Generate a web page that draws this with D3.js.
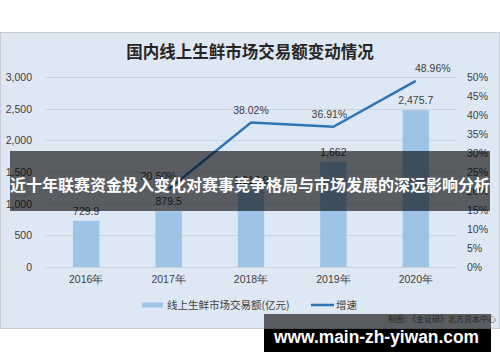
<!DOCTYPE html>
<html>
<head>
<meta charset="utf-8">
<script src="https://cdn.jsdelivr.net/npm/d3@7"></script>
<style>
  body { margin: 0; background: #fff; }
  svg { display: block; font-family: "Noto Sans CJK SC", "Noto Sans", sans-serif; }
</style>
</head>
<body>
<div id="chart"></div>
<script>
const years = ["2016年", "2017年", "2018年", "2019年", "2020年"];
const volume = [729.9, 879.5, 1213.9, 1662, 2475.7];
const volumeLabels = ["729.9", "879.5", "1,213.9", "1,662", "2,475.7"];
const growthYears = ["2017年", "2018年", "2019年", "2020年"];
const growth = [20.50, 38.02, 36.91, 48.96];
const leftTicks = [0, 500, 1000, 1500, 2000, 2500, 3000];
const rightTicks = [0, 5, 10, 15, 20, 25, 30, 35, 40, 45, 50];

const title = "国内线上生鲜市场交易额变动情况";
const bannerText = "近十年联赛资金投入变化对赛事竞争格局与市场发展的深远影响分析";
const sourceText = "制图：《金证研》北方资本中心";
const siteText = "www.main-zh-yiwan.com";

const width = 500, height = 362;
const svg = d3.select("#chart").append("svg")
    .attr("width", width)
    .attr("height", height);

// panel
svg.append("rect")
    .attr("x", 0.5).attr("y", 32.5)
    .attr("width", 499).attr("height", 296)
    .attr("fill", "#dee8f4")
    .attr("stroke", "#c9cdd2");

svg.append("text")
    .attr("x", 250).attr("y", 58)
    .attr("text-anchor", "middle")
    .attr("font-size", 16.5)
    .attr("font-weight", "bold")
    .attr("fill", "#262626")
    .text(title);

const x = d3.scaleBand().domain(years).range([45, 457]).paddingInner(0.68).paddingOuter(0.34);
const yL = d3.scaleLinear().domain([0, 3000]).range([267, 77]);
const yR = d3.scaleLinear().domain([0, 50]).range([267, 77]);
const cx = (d) => x(d) + x.bandwidth() / 2;

// gridlines
svg.append("g")
    .selectAll("line")
    .data(leftTicks)
    .join("line")
    .attr("x1", 45).attr("x2", 457)
    .attr("y1", (d) => Math.round(yL(d)) + 0.5)
    .attr("y2", (d) => Math.round(yL(d)) + 0.5)
    .attr("stroke", "#cdd3da");

// left axis
const leftAxis = svg.append("g")
    .attr("transform", "translate(45,0)")
    .call(d3.axisLeft(yL).tickValues(leftTicks).tickFormat(d3.format(",")).tickSize(0).tickPadding(13));
leftAxis.select(".domain").remove();
leftAxis.selectAll("text").attr("font-size", 10.5).attr("fill", "#404040").attr("font-family", "Liberation Sans, sans-serif");

// right axis
const rightAxis = svg.append("g")
    .attr("transform", "translate(457,0)")
    .call(d3.axisRight(yR).tickValues(rightTicks).tickFormat((d) => d + "%").tickSize(0).tickPadding(10));
rightAxis.select(".domain").remove();
rightAxis.selectAll("text").attr("font-size", 10.5).attr("fill", "#404040").attr("font-family", "Liberation Sans, sans-serif");

// x axis labels
const xAxis = svg.append("g")
    .attr("transform", "translate(0,267)")
    .call(d3.axisBottom(x).tickSize(0).tickPadding(9));
xAxis.select(".domain").remove();
xAxis.selectAll("text").attr("font-size", 10.5).attr("fill", "#404040");

// bars
svg.append("g")
    .selectAll("rect")
    .data(volume)
    .join("rect")
    .attr("x", (d, i) => x(years[i]))
    .attr("y", (d) => yL(d))
    .attr("width", x.bandwidth())
    .attr("height", (d) => yL(0) - yL(d))
    .attr("fill", "#9dc3e6");

svg.append("g")
    .selectAll("text")
    .data(volume)
    .join("text")
    .attr("x", (d, i) => cx(years[i]))
    .attr("y", (d) => yL(d) - 6)
    .attr("text-anchor", "middle")
    .attr("font-size", 10.5)
    .attr("font-family", "Liberation Sans, sans-serif")
    .attr("fill", "#404040")
    .text((d, i) => volumeLabels[i]);

// growth line
const line = d3.line()
    .x((d, i) => cx(growthYears[i]))
    .y((d) => yR(d));

svg.append("path")
    .datum(growth)
    .attr("d", line)
    .attr("fill", "none")
    .attr("stroke", "#2e75b6")
    .attr("stroke-width", 2.5);

const growthDx = [-10, 0, -4, 17];
svg.append("g")
    .selectAll("text")
    .data(growth)
    .join("text")
    .attr("x", (d, i) => cx(growthYears[i]) + growthDx[i])
    .attr("y", (d) => yR(d) - 9)
    .attr("text-anchor", "middle")
    .attr("font-size", 10.5)
    .attr("font-family", "Liberation Sans, sans-serif")
    .attr("fill", "#404040")
    .text((d) => d.toFixed(2) + "%");

// legend
const legend = svg.append("g").attr("transform", "translate(0,305)");
legend.append("rect").attr("x", 142).attr("y", -2.5).attr("width", 21).attr("height", 5).attr("fill", "#9dc3e6");
legend.append("text").attr("x", 167).attr("y", 4).attr("font-size", 10.5).attr("fill", "#404040").text("线上生鲜市场交易额(亿元)");
legend.append("line").attr("x1", 311).attr("x2", 334).attr("y1", 0).attr("y2", 0).attr("stroke", "#2e75b6").attr("stroke-width", 2.5);
legend.append("text").attr("x", 336).attr("y", 4).attr("font-size", 10.5).attr("fill", "#404040").text("增速");

svg.append("text")
    .attr("x", 496).attr("y", 322)
    .attr("text-anchor", "end")
    .attr("font-size", 8)
    .attr("fill", "#666")
    .text(sourceText);

// banner overlay
svg.append("rect")
    .attr("x", 10).attr("y", 151)
    .attr("width", 480).attr("height", 60)
    .attr("fill", "rgba(0,0,0,0.6)");
svg.append("text")
    .attr("x", 250).attr("y", 191)
    .attr("text-anchor", "middle")
    .attr("font-size", 16)
    .attr("font-weight", "bold")
    .attr("fill", "#fff")
    .text(bannerText);

// site watermark
svg.append("rect")
    .attr("x", 264).attr("y", 314)
    .attr("width", 227).attr("height", 15)
    .attr("fill", "rgba(0,0,0,0.6)");
svg.append("rect")
    .attr("x", 264).attr("y", 329)
    .attr("width", 227).attr("height", 23)
    .attr("fill", "#000");
svg.append("text")
    .attr("x", 274).attr("y", 343)
    .attr("font-size", 18)
    .attr("font-weight", "bold")
    .attr("font-family", "Liberation Sans, sans-serif")
    .attr("textLength", 205)
    .attr("lengthAdjust", "spacingAndGlyphs")
    .attr("fill", "#fff")
    .text(siteText);
</script>
</body>
</html>
